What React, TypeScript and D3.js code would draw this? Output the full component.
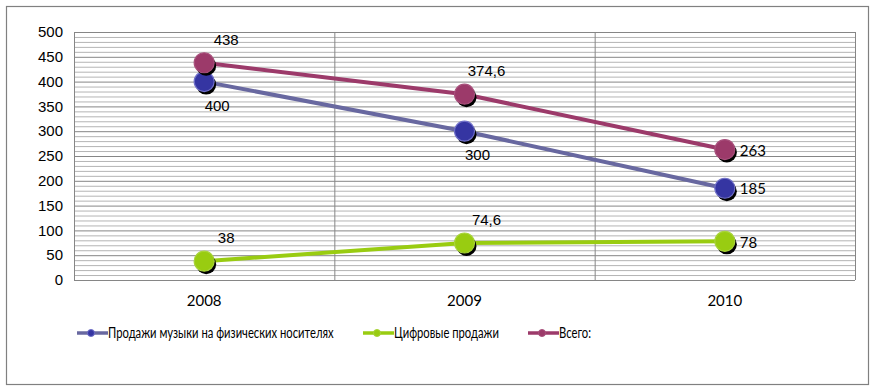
import React from "react";
import * as d3 from "d3";

const years = ["2008", "2009", "2010"];
const physical = [400, 300, 185];
const digital = [38, 74.6, 78];
const total = [438, 374.6, 263];
const yTicks = [0, 50, 100, 150, 200, 250, 300, 350, 400, 450, 500];

type Place = "above" | "below" | "right";

const series = [
  { name: "Продажи музыки на физических носителях", values: physical, line: "#6868a0", fill: "#3535a2", stroke: "#7070c8", places: ["below", "below", "right"] as Place[] },
  { name: "Цифровые продажи", values: digital, line: "#99cc11", fill: "#99cc11", stroke: "#a8d43a", places: ["above", "above", "right"] as Place[] },
  { name: "Всего:", values: total, line: "#9c3a6a", fill: "#9c3a6a", stroke: "#a8507c", places: ["above", "above", "right"] as Place[] },
];

const W = 877;
const H = 390;
const m = { left: 74, right: 855, top: 32, bottom: 280 };

const fmt = (v: number) => String(v).replace(".", ",");

export default function App() {
  const x = d3.scaleBand<string>().domain(years).range([m.left, m.right]);
  const y = d3.scaleLinear().domain([0, 500]).range([m.bottom, m.top]);
  const minor = d3.range(0, 501, 10).filter((v) => v % 50 !== 0);
  const cx = (i: number) => (x(years[i]) as number) + x.bandwidth() / 2;
  const line = d3
    .line<number>()
    .x((_, i) => cx(i))
    .y((d) => y(d));

  const labelPos = (p: Place, px: number, py: number) => {
    if (p === "above") return { x: px + 22, y: py - 23, anchor: "middle" };
    if (p === "below") return { x: px + 13, y: py + 24, anchor: "middle" };
    return { x: px + 15, y: py + 1, anchor: "start" };
  };

  // legend layout; Calibri is missing so Lato is narrowed to look condensed
  const legendX = [77, 363, 528];
  const squeeze = 0.75;

  return (
    <svg width={W} height={H} style={{ position: "absolute", left: 0, top: 0 }}>
      <rect x={0} y={0} width={W} height={H} fill="#fff" />
      <rect x={6.5} y={6.5} width={862} height={378} fill="none" stroke="#808080" strokeWidth={1.2} />
      {minor.map((v) => (
        <line key={"mi" + v} x1={m.left} x2={m.right} y1={y(v) + 0.5} y2={y(v) + 0.5} stroke="#b4b4b4" strokeWidth={1} />
      ))}
      {yTicks.map((v) => (
        <line key={"ma" + v} x1={m.left} x2={m.right} y1={y(v) + 0.5} y2={y(v) + 0.5} stroke="#868686" strokeWidth={1} />
      ))}
      {years.slice(1).map((yr) => (
        <line key={"v" + yr} x1={(x(yr) as number) + 0.5} x2={(x(yr) as number) + 0.5} y1={m.top} y2={m.bottom} stroke="#868686" />
      ))}
      <line x1={m.left + 0.5} x2={m.left + 0.5} y1={m.top} y2={m.bottom} stroke="#868686" />
      <line x1={m.right + 0.5} x2={m.right + 0.5} y1={m.top} y2={m.bottom} stroke="#868686" />
      {yTicks.map((v) => (
        <text key={"t" + v} x={63} y={y(v)} dy="0.35em" textAnchor="end" fontFamily="Liberation Sans, Arial, sans-serif" fontSize={15} fill="#000">
          {v}
        </text>
      ))}
      {years.map((yr, i) => (
        <text key={"c" + yr} x={cx(i)} y={306} textAnchor="middle" fontFamily="Lato, sans-serif" fontSize={15} fill="#000">
          {yr}
        </text>
      ))}
      {series.map((s) => (
        <path key={"l" + s.name} d={line(s.values) || ""} fill="none" stroke={s.line} strokeWidth={4} />
      ))}
      {series.map((s) =>
        s.values.map((v, i) => (
          <g key={"m" + s.name + i}>
            <circle cx={cx(i) + 2} cy={y(v) + 3} r={10} fill="#000" />
            <circle cx={cx(i)} cy={y(v)} r={10} fill={s.fill} stroke={s.stroke} strokeWidth={1.2} />
          </g>
        ))
      )}
      {series.map((s) =>
        s.values.map((v, i) => {
          const p = labelPos(s.places[i], cx(i), y(v));
          return (
            <text key={"d" + s.name + i} x={p.x} y={p.y} dy="0.35em" textAnchor={p.anchor as any} fontFamily={i === 2 ? "Lato, sans-serif" : "Liberation Sans, Arial, sans-serif"} fontSize={15} fill="#000">
              {fmt(v)}
            </text>
          );
        })
      )}
      {series.map((s, k) => (
        <g key={"lg" + s.name} transform={`translate(${legendX[k]},333)`}>
          <line x1={0} x2={31} y1={0} y2={0} stroke={s.line} strokeWidth={3.5} />
          <circle cx={14} cy={0} r={3.5} fill={s.fill} stroke={s.stroke} />
          <g transform={`translate(31,0) scale(${squeeze},1)`}>
            <text x={0} y={0} dy="0.35em" fontFamily="Lato, sans-serif" fontSize={15} fill="#000">
              {s.name}
            </text>
          </g>
        </g>
      ))}
    </svg>
  );
}
